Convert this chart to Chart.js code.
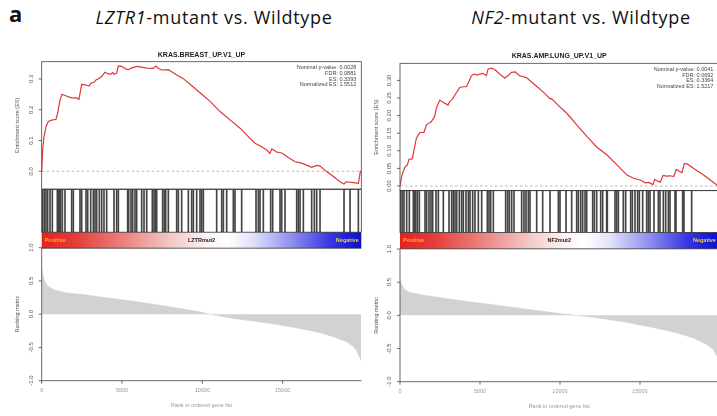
<!DOCTYPE html>
<html>
<head>
<meta charset="utf-8">
<script src="https://cdn.jsdelivr.net/npm/chart.js@4.4.1/dist/chart.umd.min.js"></script>
<style>
body{margin:0;background:#fff;width:717px;height:416px;overflow:hidden;position:relative;font-family:'Open Sans',sans-serif;color:#111}
canvas{position:absolute}
.t{position:absolute;white-space:nowrap;line-height:17px}
</style>
</head>
<body>
<div class="t" style="left:9px;top:5px;font-weight:bold;font-size:22px;">a</div>
<div class="t" style="left:64px;top:9px;width:300px;text-align:center;font-size:18px;letter-spacing:0.7px;"><i>LZTR1</i>-mutant vs. Wildtype</div>
<div class="t" style="left:431px;top:9px;width:300px;text-align:center;font-size:18px;letter-spacing:0.7px;"><i>NF2</i>-mutant vs. Wildtype</div>
<script>
// gene list length (rank axis)
const N_GENES = 19900;

// LZTR1 panel - running enrichment score
const lztrEsRank = [0,60,143,268,413,620,890,995,1140,1265,1450,1760,1970,2135,2320,2430,2490,2700,2965,3050,3280,3380,3590,3735,3940,4110,4295,4420,4500,4670,4770,4980,5250,5395,5605,5915,6120,6540,6950,7100,7260,7470,7885,8050,8405,8820,9235,9860,10480,11105,11725,12350,12970,13280,13700,14010,14215,14320,14465,14635,14840,15005,15355,15775,16085,16500,16815,17125,17330,17745,18160,18575,18825,18950,19405,19720,19840,19900];
const lztrEsScore = [0,0.069,0.113,0.145,0.162,0.166,0.169,0.189,0.232,0.250,0.246,0.240,0.238,0.239,0.234,0.265,0.282,0.281,0.277,0.286,0.290,0.297,0.302,0.308,0.322,0.317,0.315,0.321,0.315,0.319,0.342,0.341,0.332,0.330,0.336,0.341,0.339,0.335,0.334,0.342,0.335,0.329,0.330,0.325,0.313,0.301,0.283,0.255,0.227,0.194,0.167,0.140,0.107,0.091,0.080,0.069,0.058,0.072,0.069,0.062,0.061,0.058,0.045,0.031,0.028,0.020,0.013,0.019,0.017,-0.001,-0.017,-0.034,-0.041,-0.034,-0.037,-0.039,0.0,0.0];
// LZTR1 panel - gene set hits (rank positions)
const lztrHits = [60,164,268,372,517,662,973,1036,1098,1181,1285,1451,1866,1970,2385,2489,2759,2863,3050,3215,3319,3423,3589,3734,3879,4046,4502,4668,4772,5353,5416,5561,5665,5810,5914,6225,6370,6536,6889,6993,7076,7159,7533,7636,7720,7885,8404,8508,8716,9131,9338,9442,9650,9857,9961,10065,10895,11207,11311,11518,11933,12037,12452,13345,13490,13594,13801,14258,14383,14839,14943,15150,15877,15981,16085,16292,16811,16977,17122,17330,18824,19198,19717];
// LZTR1 panel - ranking metric
const lztrMetricRank = [0,100,311,726,1556,2594,3632,5706,7783,9857,10270,10690,11930,14010,16085,17330,18160,18990,19405,19615,19780,19900];
const lztrMetricValue = [0.70,0.56,0.435,0.37,0.32,0.295,0.26,0.195,0.12,0.035,0.01,-0.01,-0.065,-0.13,-0.215,-0.28,-0.34,-0.415,-0.49,-0.55,-0.64,-0.70];
const lztrStats = ['Nominal p-value: 0.0028','FDR: 0.0881','ES: 0.3393','Normalized ES: 1.5512'];

// NF2 panel - running enrichment score
const nf2EsRank = [0,125,290,460,562,770,875,1020,1230,1500,1645,1855,1960,2165,2270,2480,2690,3000,3105,3270,3520,3730,3940,4145,4290,4460,4605,4830,4980,5190,5395,5500,5710,5915,6230,6540,6750,6960,7210,7480,7690,7895,8210,8625,9045,9355,9500,9840,10440,11060,11690,12310,12940,13560,14190,14600,15020,15330,15540,15810,15920,16060,16270,16440,16645,16895,17105,17270,17480,17625,17770,17980,18355,18980,19810,19900];
const nf2EsScore = [0,0.031,0.052,0.060,0.076,0.077,0.102,0.135,0.152,0.152,0.173,0.180,0.183,0.197,0.221,0.244,0.238,0.230,0.240,0.246,0.265,0.280,0.282,0.282,0.295,0.313,0.318,0.315,0.318,0.320,0.313,0.332,0.335,0.331,0.318,0.307,0.313,0.323,0.324,0.313,0.311,0.308,0.296,0.280,0.263,0.249,0.247,0.231,0.206,0.173,0.140,0.110,0.088,0.060,0.031,0.022,0.017,0.009,0.010,0.004,0.019,0.015,0.011,0.030,0.028,0.029,0.027,0.047,0.041,0.038,0.064,0.062,0.050,0.031,0.003,0.0];
const nf2Hits = [42,146,250,417,583,833,896,979,1083,1208,1563,1667,1813,1938,2042,2250,2396,2708,3063,3229,3333,3438,3542,3708,3854,3958,4125,4271,4375,4542,4688,4896,5104,5458,5563,5667,5833,6604,6729,6833,6979,7125,7604,7750,7875,8021,8125,8542,8917,9375,9896,10000,10375,10729,11042,11146,11292,11417,11563,11667,12042,12146,12292,12542,12667,12917,12958,13438,13542,13646,13958,14104,14417,14521,14688,14854,14958,15167,15417,15521,15625,15875,16146,16250,16458,16604,16771,16875,17188,17250,17667,17750,18229];
const nf2MetricRank = [0,104,313,625,1667,2708,3750,5000,6875,8958,10000,11040,12083,14167,16250,17290,18330,19170,19580,19810,19900];
const nf2MetricValue = [0.56,0.46,0.385,0.345,0.296,0.26,0.225,0.186,0.126,0.06,0.026,0.0,-0.03,-0.105,-0.205,-0.265,-0.34,-0.44,-0.515,-0.615,-0.66];
const nf2Stats = ['Nominal p-value: 0.0041','FDR: 0.0692','ES: 0.3364','Normalized ES: 1.5217'];

// tick labels
const lztrEsTicks = [0,0.1,0.2,0.3];
const lztrEsLabels = ['0.0','0.1','0.2','0.3'];
const nf2EsTicks = [0,0.05,0.1,0.15,0.2,0.25,0.3];
const nf2EsLabels = ['0.00','0.05','0.10','0.15','0.20','0.25','0.30'];
const metricTicks = [-1,-0.5,0,0.5,1];
const metricLabels = ['-1.0','-0.5','0.0','0.5','1.0'];
const rankTicks = [0,5000,10000,15000];
const rankLabels = ['0','5000','10000','15000'];

function toXY(xs, ys){ return xs.map((x,i)=>({x:x, y:ys[i]})); }

function makeCanvas(b){
	const c = document.createElement('canvas');
	c.width = b.w; c.height = b.h;
	c.style.left = b.x+'px'; c.style.top = b.y+'px';
	c.style.width = b.w+'px'; c.style.height = b.h+'px';
	document.body.appendChild(c);
	return c;
}

function padFor(b, a){
	return {left:a.l-b.x, top:a.t-b.y, right:b.x+b.w-a.r, bottom:b.y+b.h-a.b};
}

function baseOpts(pad, ymin, ymax){
	return {
		responsive:false, animation:false, events:[],
		layout:{padding:pad},
		plugins:{legend:{display:false}, tooltip:{enabled:false}},
		scales:{
			x:{type:'linear', display:false, min:0, max:N_GENES, offset:false},
			y:{type:'linear', display:false, min:ymin, max:ymax}
		}
	};
}

function rotText(ctx, txt, x, y){
	ctx.save(); ctx.translate(x,y); ctx.rotate(-Math.PI/2); ctx.fillText(txt,0,0); ctx.restore();
}

// R style frame, ticks and labels
function rFrame(cfg){
	return {
		id:'rFrame',
		afterDraw(chart){
			const ctx = chart.ctx, a = chart.chartArea, xs = chart.scales.x, ys = chart.scales.y;
			ctx.save();
			ctx.strokeStyle = '#444'; ctx.lineWidth = 0.8;
			if(cfg.box) ctx.strokeRect(a.left, a.top, a.right-a.left, a.bottom-a.top);
			if(cfg.lshape){
				ctx.beginPath(); ctx.moveTo(a.left,a.top); ctx.lineTo(a.left,a.bottom); ctx.lineTo(a.right,a.bottom); ctx.stroke();
			}
			ctx.textAlign = 'center'; ctx.textBaseline = 'middle';
			if(cfg.yTicks){
				ctx.font = '6px "Liberation Sans"'; ctx.fillStyle = '#555';
				cfg.yTicks.forEach((v,i)=>{
					const y = ys.getPixelForValue(v);
					ctx.beginPath(); ctx.moveTo(a.left-3,y); ctx.lineTo(a.left,y); ctx.stroke();
					rotText(ctx, cfg.yLabels[i], a.left-10.5, y);
				});
			}
			if(cfg.yTitle){
				ctx.font = '5.5px "Liberation Sans"'; ctx.fillStyle = '#555';
				rotText(ctx, cfg.yTitle, a.left-24, (a.top+a.bottom)/2);
			}
			if(cfg.xTicks){
				ctx.font = '5.5px "Liberation Sans"'; ctx.fillStyle = '#999';
				cfg.xTicks.forEach((v,i)=>{
					const x = xs.getPixelForValue(v);
					ctx.beginPath(); ctx.moveTo(x,a.bottom); ctx.lineTo(x,a.bottom+3); ctx.stroke();
					ctx.fillText(cfg.xLabels[i], x, a.bottom+9.5);
				});
				ctx.fillText(cfg.xTitle, (a.left+a.right)/2, a.bottom+24.5);
			}
			if(cfg.title){
				ctx.font = 'bold 7px "Liberation Sans"'; ctx.fillStyle = '#222';
				ctx.fillText(cfg.title, (a.left+a.right)/2, a.top-7);
			}
			if(cfg.stats){
				ctx.font = '5.5px "Liberation Sans"'; ctx.fillStyle = '#444'; ctx.textAlign = 'right';
				cfg.stats.forEach((s,i)=>ctx.fillText(s, a.right-5, a.top+6+i*5.7));
			}
			ctx.restore();
		}
	};
}

// phenotype colour bar under the hit barcode
function colorBar(cfg){
	return {
		id:'colorBar',
		afterDraw(chart){
			const ctx = chart.ctx, a = chart.chartArea;
			const top = a.bottom, h = cfg.h, w = a.right-a.left;
			const g = ctx.createLinearGradient(a.left,0,a.right,0);
			[[0,'#e3221e'],[0.1,'#e53a36'],[0.25,'#ea7f7c'],[0.4,'#f3c6c5'],[0.52,'#fdf4f4'],[0.58,'#ffffff'],
			 [0.66,'#e2e2fb'],[0.78,'#9090f0'],[0.9,'#3838e2'],[1,'#0c0cd6']].forEach(s=>g.addColorStop(s[0],s[1]));
			ctx.save();
			ctx.fillStyle = g; ctx.fillRect(a.left, top, w, h);
			ctx.strokeStyle = '#333'; ctx.lineWidth = 0.8;
			ctx.strokeRect(a.left, a.top, w, a.bottom-a.top);
			ctx.beginPath(); ctx.moveTo(a.left, top+h); ctx.lineTo(a.right, top+h); ctx.stroke();
			ctx.font = 'bold 5.5px "Liberation Sans"'; ctx.textBaseline = 'middle';
			const ym = top + h/2;
			ctx.textAlign = 'left'; ctx.fillStyle = '#f2b21e'; ctx.fillText('Positive', a.left+3, ym);
			ctx.textAlign = 'center'; ctx.fillStyle = '#222'; ctx.fillText(cfg.label, a.left+w/2, ym);
			ctx.textAlign = 'right'; ctx.fillStyle = '#e8d23a'; ctx.fillText('Negative', a.right-2.5, ym);
			ctx.restore();
		}
	};
}

function buildPanel(p){
	// enrichment score
	const esBox = {x:p.cx, y:44, w:p.cw, h:148};
	const esOpts = baseOpts(padFor(esBox, {l:p.l, r:p.r, t:p.esTop, b:p.esBot}), p.esMin, p.esMax);
	new Chart(makeCanvas(esBox), {
		type:'line',
		data:{datasets:[
			{data:toXY(p.esRank, p.esScore), borderColor:'#dc3a36', borderWidth:1.2, pointRadius:0, tension:0},
			{data:[{x:0,y:0},{x:N_GENES,y:0}], borderColor:'#999', borderWidth:0.7, borderDash:[2.5,2.5], pointRadius:0}
		]},
		options:esOpts,
		plugins:[rFrame({box:true, yTicks:p.esTicks, yLabels:p.esLabels, yTitle:'Enrichment score (ES)', title:p.title, stats:p.stats})]
	});

	// hit barcode + colour bar
	const hitBox = {x:p.cx, y:p.esBot-1.5, w:p.cw, h:64};
	const hitOpts = baseOpts(padFor(hitBox, {l:p.l, r:p.r, t:p.esBot, b:p.barBot}), 0, 1);
	new Chart(makeCanvas(hitBox), {
		type:'bar',
		data:{datasets:[{data:p.hits.map(h=>({x:h, y:1})), backgroundColor:'#444', barThickness:1, borderWidth:0}]},
		options:hitOpts,
		plugins:[colorBar({h:p.cbBot-p.barBot, label:p.cbLabel})]
	});

	// ranked list metric
	const rkBox = {x:p.cx, y:236, w:p.cw, h:180};
	const rkOpts = baseOpts(padFor(rkBox, {l:p.l, r:p.r, t:p.rkTop, b:p.rkBot}), -1, 1);
	new Chart(makeCanvas(rkBox), {
		type:'line',
		data:{datasets:[{data:toXY(p.mRank, p.mValue), borderColor:'#cfcfcf', borderWidth:0.5, backgroundColor:'#d2d2d2', fill:'origin', pointRadius:0, tension:0}]},
		options:rkOpts,
		plugins:[rFrame({lshape:true, yTicks:metricTicks, yLabels:metricLabels, yTitle:'Ranking metric',
			xTicks:rankTicks, xLabels:rankLabels, xTitle:'Rank in ordered gene list'})]
	});
}

buildPanel({
	cx:0, cw:362, l:41.7, r:361.3,
	esTop:61.7, esBot:189, barBot:231.7, cbBot:247.7, rkTop:247.7, rkBot:380.7,
	esMin:-0.0575, esMax:0.356,
	esRank:lztrEsRank, esScore:lztrEsScore, esTicks:lztrEsTicks, esLabels:lztrEsLabels,
	hits:lztrHits, mRank:lztrMetricRank, mValue:lztrMetricValue,
	title:'KRAS.BREAST_UP.V1_UP', stats:lztrStats, cbLabel:'LZTRmut2'
});

buildPanel({
	cx:362, cw:360, l:400, r:718.4,
	esTop:63.3, esBot:190.7, barBot:232.7, cbBot:249, rkTop:249, rkBot:381.7,
	esMin:-0.0134, esMax:0.3486,
	esRank:nf2EsRank, esScore:nf2EsScore, esTicks:nf2EsTicks, esLabels:nf2EsLabels,
	hits:nf2Hits, mRank:nf2MetricRank, mValue:nf2MetricValue,
	title:'KRAS.AMP.LUNG_UP.V1_UP', stats:nf2Stats, cbLabel:'NF2mut2'
});
</script>
</body>
</html>
